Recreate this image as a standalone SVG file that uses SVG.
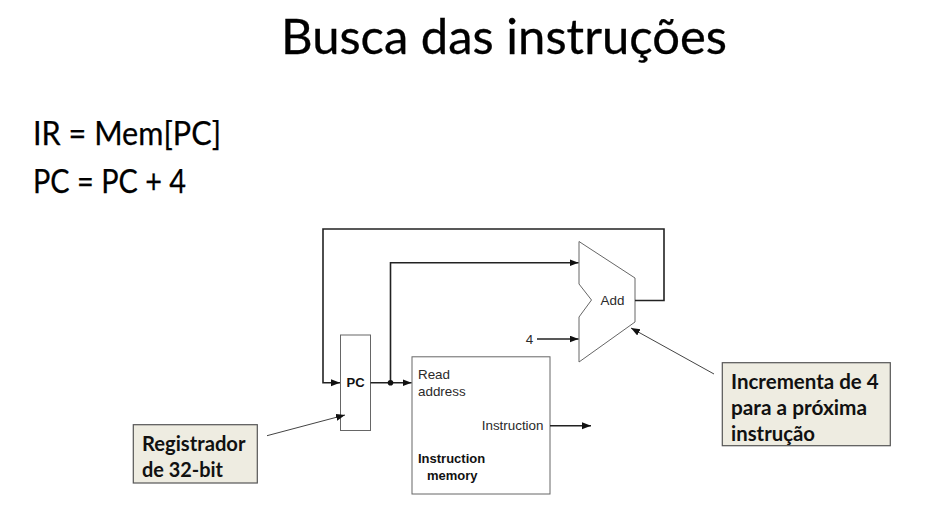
<svg xmlns="http://www.w3.org/2000/svg" width="940" height="521" viewBox="0 0 940 521">
<style>
.lato{font-family:"Lato","Carlito","Liberation Sans",sans-serif;fill:#000}
.title{font-size:48px;stroke:#000;stroke-width:.3}
.body{font-size:32px;stroke:#000;stroke-width:.25}
.note{font-size:20.5px;font-weight:700;fill:#111}
.fig{font-family:"Liberation Sans",Arial,sans-serif;font-size:13.4px;fill:#2a2a2a}
.b{font-weight:700;fill:#111;font-size:13px}
.shape{fill:#fff;stroke:#666;stroke-width:1}
.callout{fill:#eeece1;stroke:#555;stroke-width:1.2}
.wire{fill:none;stroke:#222;stroke-width:1.6}
.thin{fill:none;stroke:#444;stroke-width:1}
</style>
<defs>
<marker id="ah" markerUnits="userSpaceOnUse" markerWidth="10" markerHeight="8" refX="9" refY="3.500" orient="auto"><path d="M0 0L9 3.500L0 7z" fill="#111"/></marker>
</defs>
<rect width="940" height="521" fill="#fff"/>
<text class="lato title" x="504" y="54" text-anchor="middle" textLength="446" lengthAdjust="spacingAndGlyphs">Busca das instruções</text>
<text class="lato body" x="33" y="145" textLength="188" lengthAdjust="spacingAndGlyphs">IR = Mem[PC]</text>
<text class="lato body" x="33" y="193" textLength="153" lengthAdjust="spacingAndGlyphs">PC = PC + 4</text>
<g id="pc"><rect class="shape" x="340.500" y="335" width="30" height="95.500"/><text class="fig b" x="355.500" y="386.500" text-anchor="middle">PC</text></g>
<g id="memory"><rect class="shape" x="412" y="356.800" width="138" height="137.200"/><text class="fig" x="418" y="379">Read</text><text class="fig" x="418" y="395.500">address</text><text class="fig" x="543.500" y="430" text-anchor="end">Instruction</text><text class="fig b" x="418" y="463">Instruction</text><text class="fig b" x="427" y="479.500">memory</text></g>
<g id="adder"><path class="shape" d="M579 241.500L635 278V322L579 362V317L591.500 300L579 284Z"/><text class="fig" x="612.500" y="305" text-anchor="middle">Add</text></g>
<g id="constant"><text class="fig" x="529.500" y="343.500" text-anchor="middle">4</text></g>
<g id="connectors">
<path class="wire" marker-end="url(#ah)" d="M635 300.500H664V229H323V382.700H340"/>
<path class="wire" marker-end="url(#ah)" d="M370.500 382.700H411.500"/>
<path class="wire" marker-end="url(#ah)" d="M390.500 382.700V262.700H578.500"/>
<path class="wire" marker-end="url(#ah)" d="M537 339H578.500"/>
<path class="wire" marker-end="url(#ah)" d="M550 425.700H591"/>
<circle cx="390.500" cy="382.700" r="2.800" fill="#111"/>
<path class="thin" marker-end="url(#ah)" d="M267 435.700L345 415"/>
<path class="thin" marker-end="url(#ah)" d="M714 374L631 328"/>
</g>
<g id="note-register"><rect class="callout" x="133.300" y="424.700" width="124" height="58.300"/><text class="lato note" x="142" y="451" textLength="103.500" lengthAdjust="spacingAndGlyphs">Registrador</text><text class="lato note" x="142" y="477" textLength="81" lengthAdjust="spacingAndGlyphs">de 32-bit</text></g>
<g id="note-increment"><rect class="callout" x="722.300" y="362.700" width="168" height="83"/><text class="lato note" x="731" y="389">Incrementa de 4</text><text class="lato note" x="731" y="415" textLength="136" lengthAdjust="spacingAndGlyphs">para a próxima</text><text class="lato note" x="731" y="441" textLength="84" lengthAdjust="spacingAndGlyphs">instrução</text></g>
</svg>
